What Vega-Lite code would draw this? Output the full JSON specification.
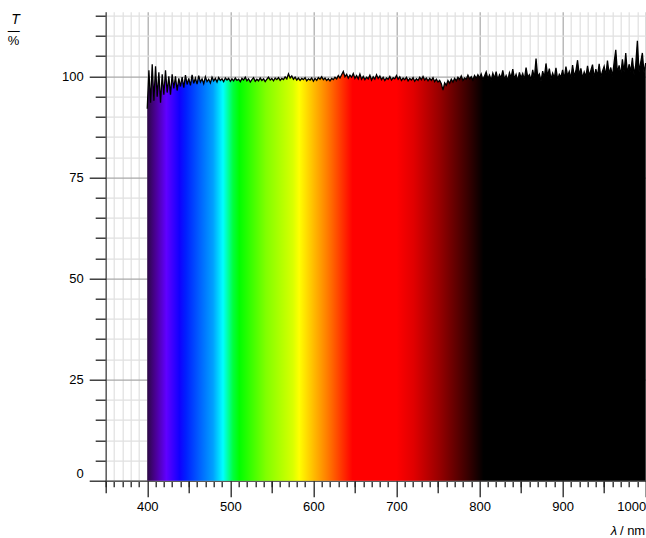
{
  "$schema": "https://vega.github.io/schema/vega-lite/v6.json",
  "autosize": {"type": "none"},
  "width": 540,
  "height": 469,
  "padding": {"left": 105.7, "top": 11.7, "right": 0, "bottom": 57.3},
  "background": "white",
  "config": {
    "view": {"stroke": null},
    "axis": {
      "labelFont": "Liberation Sans",
      "titleFont": "Liberation Sans",
      "labelFontSize": 13,
      "labelColor": "#000000",
      "titleColor": "#000000",
      "titleFontWeight": "normal",
      "tickColor": "#222222",
      "tickWidth": 1.3,
      "domainColor": "#5a5a5a",
      "domainWidth": 1.5
    }
  },
  "data": {
    "values": [
      {"wl":400,"T":92.0},{"wl":402,"T":101.5},{"wl":404,"T":93.5},{"wl":406,"T":103.0},{"wl":408,"T":94.0},
      {"wl":410,"T":102.5},{"wl":412,"T":95.0},{"wl":414,"T":101.0},{"wl":416,"T":93.5},{"wl":418,"T":100.5},
      {"wl":420,"T":95.5},{"wl":422,"T":101.5},{"wl":424,"T":96.0},{"wl":426,"T":100.0},{"wl":428,"T":95.5},
      {"wl":430,"T":100.5},{"wl":432,"T":97.0},{"wl":434,"T":100.0},{"wl":436,"T":96.5},{"wl":438,"T":99.5},
      {"wl":440,"T":97.5},{"wl":442,"T":99.8},{"wl":444,"T":97.2},{"wl":446,"T":100.3},{"wl":448,"T":98.0},
      {"wl":450,"T":99.5},{"wl":452,"T":97.8},{"wl":454,"T":100.4},{"wl":456,"T":98.3},{"wl":458,"T":99.6},
      {"wl":460,"T":98.1},{"wl":462,"T":100.2},{"wl":464,"T":98.6},{"wl":466,"T":99.4},{"wl":468,"T":98.2},
      {"wl":470,"T":99.9},{"wl":472,"T":98.7},{"wl":474,"T":99.3},{"wl":476,"T":98.4},{"wl":478,"T":99.8},
      {"wl":480,"T":98.9},{"wl":482,"T":99.5},{"wl":484,"T":98.6},{"wl":486,"T":99.7},{"wl":488,"T":99.0},
      {"wl":490,"T":99.4},{"wl":492,"T":98.7},{"wl":494,"T":99.6},{"wl":496,"T":99.1},{"wl":498,"T":99.5},
      {"wl":500,"T":98.8},{"wl":502,"T":99.4},{"wl":504,"T":98.9},{"wl":506,"T":99.6},{"wl":508,"T":99.0},
      {"wl":510,"T":99.3},{"wl":512,"T":98.7},{"wl":514,"T":99.5},{"wl":516,"T":99.1},{"wl":518,"T":99.8},
      {"wl":520,"T":98.9},{"wl":522,"T":99.4},{"wl":524,"T":98.6},{"wl":526,"T":99.2},{"wl":528,"T":99.7},
      {"wl":530,"T":98.8},{"wl":532,"T":99.3},{"wl":534,"T":98.9},{"wl":536,"T":99.6},{"wl":538,"T":99.0},
      {"wl":540,"T":99.4},{"wl":542,"T":98.7},{"wl":544,"T":99.3},{"wl":546,"T":99.8},{"wl":548,"T":99.1},
      {"wl":550,"T":99.5},{"wl":552,"T":98.9},{"wl":554,"T":99.6},{"wl":556,"T":99.2},{"wl":558,"T":99.7},
      {"wl":560,"T":99.0},{"wl":562,"T":99.5},{"wl":564,"T":99.2},{"wl":566,"T":99.9},{"wl":568,"T":99.4},
      {"wl":570,"T":100.6},{"wl":572,"T":99.6},{"wl":574,"T":100.1},{"wl":576,"T":99.3},{"wl":578,"T":99.8},
      {"wl":580,"T":99.1},{"wl":582,"T":99.6},{"wl":584,"T":99.0},{"wl":586,"T":99.5},{"wl":588,"T":99.2},
      {"wl":590,"T":99.7},{"wl":592,"T":98.9},{"wl":594,"T":99.4},{"wl":596,"T":99.1},{"wl":598,"T":99.6},
      {"wl":600,"T":98.8},{"wl":602,"T":99.5},{"wl":604,"T":99.0},{"wl":606,"T":99.7},{"wl":608,"T":99.3},
      {"wl":610,"T":99.9},{"wl":612,"T":99.2},{"wl":614,"T":99.6},{"wl":616,"T":99.0},{"wl":618,"T":99.4},
      {"wl":620,"T":98.9},{"wl":622,"T":99.5},{"wl":624,"T":99.2},{"wl":626,"T":99.8},{"wl":628,"T":99.4},
      {"wl":630,"T":100.2},{"wl":632,"T":99.6},{"wl":634,"T":100.4},{"wl":636,"T":101.2},{"wl":638,"T":99.9},
      {"wl":640,"T":100.5},{"wl":642,"T":99.6},{"wl":644,"T":100.3},{"wl":646,"T":99.8},{"wl":648,"T":100.7},
      {"wl":650,"T":99.5},{"wl":652,"T":100.2},{"wl":654,"T":99.4},{"wl":656,"T":100.6},{"wl":658,"T":99.3},
      {"wl":660,"T":100.0},{"wl":662,"T":99.2},{"wl":664,"T":99.8},{"wl":666,"T":99.4},{"wl":668,"T":100.3},
      {"wl":670,"T":99.1},{"wl":672,"T":99.9},{"wl":674,"T":99.3},{"wl":676,"T":100.4},{"wl":678,"T":99.5},
      {"wl":680,"T":100.1},{"wl":682,"T":99.2},{"wl":684,"T":99.8},{"wl":686,"T":99.0},{"wl":688,"T":99.6},
      {"wl":690,"T":99.3},{"wl":692,"T":100.0},{"wl":694,"T":99.1},{"wl":696,"T":99.7},{"wl":698,"T":99.4},
      {"wl":700,"T":100.2},{"wl":702,"T":99.3},{"wl":704,"T":99.9},{"wl":706,"T":99.0},{"wl":708,"T":99.6},
      {"wl":710,"T":99.2},{"wl":712,"T":99.8},{"wl":714,"T":98.9},{"wl":716,"T":99.5},{"wl":718,"T":99.1},
      {"wl":720,"T":99.7},{"wl":722,"T":98.8},{"wl":724,"T":99.4},{"wl":726,"T":99.0},{"wl":728,"T":99.8},
      {"wl":730,"T":99.2},{"wl":732,"T":100.0},{"wl":734,"T":99.1},{"wl":736,"T":99.6},{"wl":738,"T":98.9},
      {"wl":740,"T":99.5},{"wl":742,"T":99.0},{"wl":744,"T":99.7},{"wl":746,"T":98.7},{"wl":748,"T":99.3},
      {"wl":750,"T":98.6},{"wl":752,"T":99.0},{"wl":754,"T":98.2},{"wl":756,"T":96.6},{"wl":758,"T":98.4},
      {"wl":760,"T":97.8},{"wl":762,"T":99.0},{"wl":764,"T":98.3},{"wl":766,"T":99.3},{"wl":768,"T":98.6},
      {"wl":770,"T":99.5},{"wl":772,"T":98.9},{"wl":774,"T":99.8},{"wl":776,"T":99.2},{"wl":778,"T":100.1},
      {"wl":780,"T":99.0},{"wl":782,"T":99.6},{"wl":784,"T":99.3},{"wl":786,"T":100.3},{"wl":788,"T":99.4},
      {"wl":790,"T":99.9},{"wl":792,"T":99.1},{"wl":794,"T":100.2},{"wl":796,"T":99.5},{"wl":798,"T":100.4},
      {"wl":800,"T":99.6},{"wl":802,"T":100.6},{"wl":804,"T":99.2},{"wl":806,"T":100.1},{"wl":808,"T":101.1},
      {"wl":810,"T":99.4},{"wl":812,"T":100.3},{"wl":814,"T":99.0},{"wl":816,"T":100.8},{"wl":818,"T":99.5},
      {"wl":820,"T":101.2},{"wl":822,"T":99.1},{"wl":824,"T":100.4},{"wl":826,"T":99.6},{"wl":828,"T":101.5},
      {"wl":830,"T":99.3},{"wl":832,"T":100.2},{"wl":834,"T":99.0},{"wl":836,"T":100.9},{"wl":838,"T":99.7},
      {"wl":840,"T":101.8},{"wl":842,"T":99.4},{"wl":844,"T":100.5},{"wl":846,"T":98.9},{"wl":848,"T":101.0},
      {"wl":850,"T":99.6},{"wl":852,"T":100.7},{"wl":854,"T":99.2},{"wl":856,"T":102.2},{"wl":858,"T":99.8},
      {"wl":860,"T":100.4},{"wl":862,"T":99.1},{"wl":864,"T":101.6},{"wl":866,"T":99.5},{"wl":868,"T":104.4},
      {"wl":870,"T":99.9},{"wl":872,"T":100.6},{"wl":874,"T":98.8},{"wl":876,"T":101.3},{"wl":878,"T":99.7},
      {"wl":880,"T":103.2},{"wl":882,"T":100.0},{"wl":884,"T":101.9},{"wl":886,"T":99.3},{"wl":888,"T":100.8},
      {"wl":890,"T":99.6},{"wl":892,"T":102.1},{"wl":894,"T":99.2},{"wl":896,"T":100.5},{"wl":898,"T":99.8},
      {"wl":900,"T":101.6},{"wl":902,"T":99.4},{"wl":904,"T":102.4},{"wl":906,"T":100.1},{"wl":908,"T":101.2},
      {"wl":910,"T":99.5},{"wl":912,"T":102.8},{"wl":914,"T":100.0},{"wl":916,"T":101.4},{"wl":918,"T":104.0},
      {"wl":920,"T":100.3},{"wl":922,"T":102.0},{"wl":924,"T":99.6},{"wl":926,"T":101.1},{"wl":928,"T":99.9},
      {"wl":930,"T":102.6},{"wl":932,"T":100.2},{"wl":934,"T":101.5},{"wl":936,"T":102.9},{"wl":938,"T":99.7},
      {"wl":940,"T":101.8},{"wl":942,"T":100.1},{"wl":944,"T":103.1},{"wl":946,"T":99.8},{"wl":948,"T":101.3},
      {"wl":950,"T":102.5},{"wl":952,"T":100.2},{"wl":954,"T":103.9},{"wl":956,"T":100.6},{"wl":958,"T":102.2},
      {"wl":960,"T":100.0},{"wl":962,"T":103.4},{"wl":964,"T":106.6},{"wl":966,"T":100.8},{"wl":968,"T":102.7},
      {"wl":970,"T":100.3},{"wl":972,"T":104.2},{"wl":974,"T":101.0},{"wl":976,"T":105.8},{"wl":978,"T":100.6},
      {"wl":980,"T":103.0},{"wl":982,"T":101.2},{"wl":984,"T":104.6},{"wl":986,"T":100.4},{"wl":988,"T":102.8},
      {"wl":990,"T":108.8},{"wl":992,"T":101.1},{"wl":994,"T":103.5},{"wl":996,"T":105.8},{"wl":998,"T":100.9},
      {"wl":1000,"T":103.3}
    ]
  },
  "resolve": {"axis": {"x": "independent", "y": "independent"}},
  "layer": [
    {
      "mark": {
        "type": "area",
        "line": false,
        "fill": {
          "gradient": "linear",
          "x1": 0, "y1": 0, "x2": 1, "y2": 0,
          "stops": [
            {"offset": 0.0, "color": "#2c0845"},
            {"offset": 0.0167, "color": "#4a0095"},
            {"offset": 0.0383, "color": "#6000ff"},
            {"offset": 0.065, "color": "#1000ff"},
            {"offset": 0.078, "color": "#0020ff"},
            {"offset": 0.105, "color": "#0060ff"},
            {"offset": 0.132, "color": "#00a0ff"},
            {"offset": 0.152, "color": "#00ffff"},
            {"offset": 0.172, "color": "#00ff40"},
            {"offset": 0.185, "color": "#00ff00"},
            {"offset": 0.238, "color": "#80ff00"},
            {"offset": 0.292, "color": "#d8ff00"},
            {"offset": 0.305, "color": "#ffff00"},
            {"offset": 0.332, "color": "#ffc000"},
            {"offset": 0.36, "color": "#ff8000"},
            {"offset": 0.392, "color": "#ff3000"},
            {"offset": 0.412, "color": "#ff0000"},
            {"offset": 0.5, "color": "#ff0000"},
            {"offset": 0.535, "color": "#e00000"},
            {"offset": 0.587, "color": "#960000"},
            {"offset": 0.642, "color": "#3a0000"},
            {"offset": 0.675, "color": "#000000"},
            {"offset": 1.0, "color": "#000000"}
          ]
        }
      },
      "encoding": {
        "x": {
          "field": "wl", "type": "quantitative",
          "scale": {"domain": [350, 1000], "nice": false, "zero": false},
          "axis": {
            "orient": "bottom",
            "values": [350,360,370,380,390,410,420,430,440,450,460,470,480,490,510,520,530,540,550,560,570,580,590,610,620,630,640,650,660,670,680,690,710,720,730,740,750,760,770,780,790,810,820,830,840,850,860,870,880,890,910,920,930,940,950,960,970,980,990],
            "tickSize": 6,
            "labels": false,
            "domain": true,
            "grid": true,
            "gridColor": "#e0e0e0",
            "gridWidth": 1.2,
            "title": "λ",
            "titleFontStyle": "italic",
            "titleFontSize": 13,
            "titleAlign": "right",
            "titleBaseline": "middle",
            "titleAnchor": null,
            "titleX": 511,
            "titleY": 50
          }
        },
        "y": {
          "field": "T", "type": "quantitative",
          "scale": {"domain": [0, 116], "nice": false, "zero": false},
          "axis": {
            "orient": "left",
            "values": [5,10,15,20,30,35,40,45,55,60,65,70,80,85,90,95,105,110,115],
            "tickSize": 10.5,
            "labels": false,
            "domain": true,
            "grid": true,
            "gridColor": "#e0e0e0",
            "gridWidth": 1.2,
            "title": "%",
            "titleAngle": 0,
            "titleFontSize": 13,
            "titleAlign": "center",
            "titleBaseline": "middle",
            "titleAnchor": null,
            "titleX": -92.7,
            "titleY": 29
          }
        }
      }
    },
    {
      "mark": {"type": "line", "color": "#000000", "strokeWidth": 1.3},
      "encoding": {
        "x": {
          "field": "wl", "type": "quantitative",
          "scale": {"domain": [350, 1000], "nice": false, "zero": false},
          "axis": {
            "orient": "bottom",
            "values": [350,450,550,650,750,850,950],
            "tickSize": 12,
            "labels": false,
            "domain": false,
            "grid": false,
            "title": null
          }
        },
        "y": {
          "field": "T", "type": "quantitative",
          "scale": {"domain": [0, 116], "nice": false, "zero": false},
          "axis": {
            "orient": "left",
            "values": [0,25,50,75,100],
            "tickSize": 16.5,
            "labels": true,
            "labelPadding": 6,
            "labelFlush": true,
            "domain": false,
            "grid": true,
            "gridColor": "#a8a8a8",
            "gridWidth": 1.2,
            "title": "T",
            "titleAngle": 0,
            "titleFontStyle": "italic",
            "titleFontSize": 14,
            "titleAlign": "center",
            "titleBaseline": "middle",
            "titleAnchor": null,
            "titleX": -90.7,
            "titleY": 7.5
          }
        }
      }
    },
    {
      "mark": {"type": "point", "opacity": 0},
      "encoding": {
        "x": {
          "field": "wl", "type": "quantitative",
          "scale": {"domain": [350, 1000], "nice": false, "zero": false},
          "axis": {
            "orient": "bottom",
            "values": [400,500,600,700,800,900,1000],
            "format": "d",
            "tickSize": 16,
            "labels": true,
            "labelPadding": 4,
            "labelFlush": true,
            "domain": false,
            "grid": true,
            "gridColor": "#a8a8a8",
            "gridWidth": 1.2,
            "title": "/ nm",
            "titleFontSize": 13,
            "titleAlign": "right",
            "titleBaseline": "middle",
            "titleAnchor": null,
            "titleX": 539,
            "titleY": 50
          }
        },
        "y": {
          "field": "T", "type": "quantitative",
          "scale": {"domain": [0, 116], "nice": false, "zero": false},
          "axis": {
            "orient": "left",
            "values": [],
            "ticks": false,
            "labels": false,
            "domain": false,
            "grid": false,
            "title": "—",
            "titleAngle": 0,
            "titleFontSize": 12,
            "titleAlign": "center",
            "titleBaseline": "middle",
            "titleAnchor": null,
            "titleX": -92.4,
            "titleY": 18.3
          }
        }
      }
    }
  ]
}
